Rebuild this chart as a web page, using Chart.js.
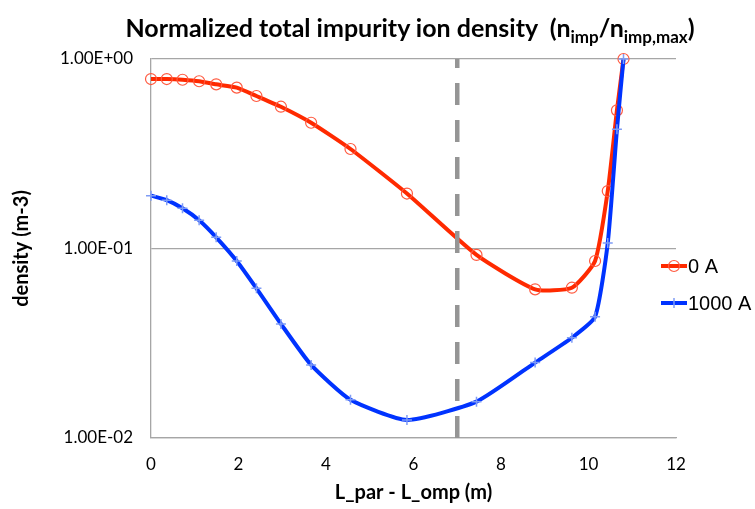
<!DOCTYPE html>
<html>
<head>
<meta charset="utf-8">
<script src="https://cdn.jsdelivr.net/npm/chart.js@4.4.1/dist/chart.umd.min.js"></script>
<style>
  html, body { margin: 0; padding: 0; background: #fff; }
  #wrap { position: relative; width: 755px; height: 509px; }
  #title {
    position: absolute; left: 120px; width: 580px; top: 12px;
    text-align: center; white-space: nowrap;
    font: bold 25px Lato, sans-serif; color: #000;
  }
  #title sub { font-size: 17px; vertical-align: -6px; line-height: 0; }
</style>
</head>
<body>
<div id="wrap">
  <canvas id="c" width="755" height="509"></canvas>
  <div id="title">Normalized total impurity ion density&nbsp; (n<sub>imp</sub>/n<sub>imp,max</sub>)</div>
</div>
<script>
// L_par - L_omp (m)
var xPos = [0, 0.36, 0.72, 1.10, 1.49, 1.96, 2.41, 2.97, 3.66, 4.56, 5.85, 7.44, 8.78, 9.62, 10.15, 10.44, 10.65, 10.80];
var series0A = [0.784, 0.784, 0.777, 0.763, 0.735, 0.706, 0.638, 0.560, 0.461, 0.335, 0.195, 0.0925, 0.0609, 0.0621, 0.0859, 0.201, 0.536, 1.0];
var series1000A = [0.190, 0.180, 0.163, 0.141, 0.1146, 0.0859, 0.0616, 0.0400, 0.0243, 0.0159, 0.01245, 0.01555, 0.0250, 0.0338, 0.0436, 0.107, 0.426, 1.0];
var yTicks = [0.01, 0.1, 1];
var yTickLabels = ["1.00E-02", "1.00E-01", "1.00E+00"];
var dashX = 7;

var RED = "#ff2a00";
var BLUE = "#0033ff";

function pts(ys) {
  return xPos.map(function(x, i) { return { x: x, y: ys[i] }; });
}

// legend like excel: short line with marker + text
var legendPlugin = {
  id: "xlLegend",
  afterDraw: function(chart) {
    var ctx = chart.ctx;
    var items = [
      { text: "0 A", color: RED, y: 266, mark: "circle" },
      { text: "1000 A", color: BLUE, y: 303, mark: "cross" }
    ];
    ctx.save();
    items.forEach(function(it) {
      ctx.strokeStyle = it.color;
      ctx.lineWidth = 4;
      ctx.beginPath();
      ctx.moveTo(661, it.y);
      ctx.lineTo(687, it.y);
      ctx.stroke();
      if (it.mark == "circle") {
        ctx.lineWidth = 1.2;
        ctx.strokeStyle = "#ff5a40";
        ctx.beginPath();
        ctx.arc(674, it.y, 5.5, 0, Math.PI * 2);
        ctx.stroke();
      } else {
        ctx.lineWidth = 1.5;
        ctx.strokeStyle = "#7f9cf5";
        ctx.beginPath();
        ctx.moveTo(674, it.y - 5);
        ctx.lineTo(674, it.y + 5);
        ctx.stroke();
      }
      ctx.fillStyle = "#000";
      ctx.font = "20px 'Liberation Sans', Arial, sans-serif";
      ctx.textBaseline = "middle";
      ctx.fillText(it.text, 688, it.y + 1);
    });
    ctx.restore();
  }
};

new Chart(document.getElementById("c"), {
  type: "line",
  data: {
    datasets: [
      {
        label: "dash",
        data: [{ x: dashX, y: 0.01 }, { x: dashX, y: 1 }],
        borderColor: "#959595",
        borderWidth: 4.5,
        borderDash: [22, 15],
        pointRadius: 0,
        tension: 0,
        order: 0
      },
      {
        label: "1000 A",
        data: pts(series1000A),
        borderColor: BLUE,
        borderWidth: 4,
        pointStyle: "cross",
        pointRadius: 5,
        pointBorderColor: "#7f9cf5",
        pointBorderWidth: 1.5,
        tension: 0.18,
        clip: false,
        order: 1
      },
      {
        label: "0 A",
        data: pts(series0A),
        borderColor: RED,
        borderWidth: 4,
        pointStyle: "circle",
        pointRadius: 5.5,
        pointBackgroundColor: "rgba(0,0,0,0)",
        pointBorderColor: "#ff5a40",
        pointBorderWidth: 1.2,
        tension: 0.18,
        clip: false,
        order: 2
      }
    ]
  },
  options: {
    responsive: false,
    animation: false,
    layout: { padding: { top: 59, right: 79, left: 0, bottom: 0 } },
    plugins: {
      legend: { display: false },
      tooltip: { enabled: false }
    },
    scales: {
      x: {
        type: "linear",
        min: 0,
        max: 12,
        ticks: { stepSize: 2, padding: 16, color: "#000", font: { family: "Lato", size: 17 } },
        grid: { display: false, drawTicks: false },
        border: { color: "#a6a6a6", width: 1.3 },
        title: {
          display: true,
          text: "L_par - L_omp (m)",
          color: "#000",
          font: { family: "Lato", size: 20, weight: "bold" },
          padding: { top: 2 }
        },
        afterFit: function(s) { s.height = 71; }
      },
      y: {
        type: "logarithmic",
        min: 0.01,
        max: 1,
        afterBuildTicks: function(s) {
          s.ticks = yTicks.map(function(v) { return { value: v }; });
        },
        ticks: {
          padding: 18,
          color: "#000",
          font: { family: "Lato", size: 17 },
          callback: function(v) {
            var i = yTicks.indexOf(v);
            return i >= 0 ? yTickLabels[i] : "";
          }
        },
        grid: { color: "#a6a6a6", lineWidth: 1.3, drawTicks: false },
        border: { color: "#a6a6a6", width: 1.3 },
        title: {
          display: true,
          text: "density (m-3)",
          color: "#000",
          font: { family: "Lato", size: 20, weight: "bold" },
          padding: { top: 10 }
        },
        afterFit: function(s) { s.width = 151; }
      }
    }
  },
  plugins: [legendPlugin]
});
</script>
</body>
</html>
